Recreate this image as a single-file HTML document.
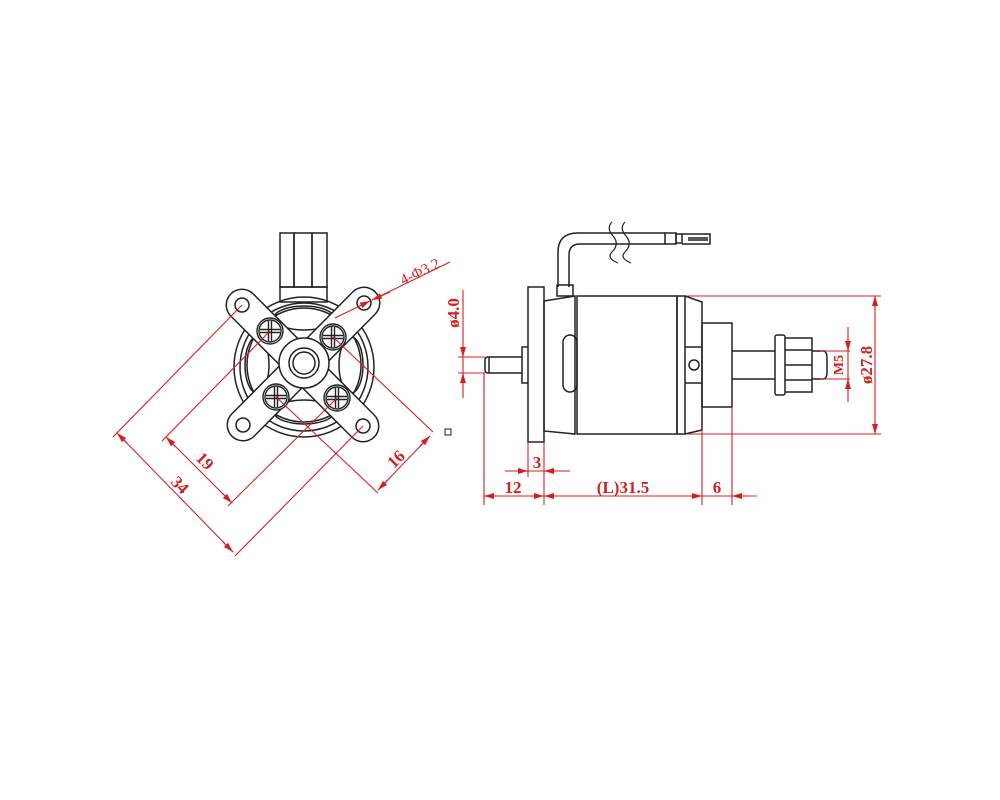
<!DOCTYPE html>
<html><head><style>html,body{margin:0;padding:0;background:#fff}svg{display:block}</style></head>
<body>
<svg width="1000" height="800" viewBox="0 0 1000 800" xmlns="http://www.w3.org/2000/svg">
<defs>
<marker id="a" viewBox="0 0 10 6" refX="10" refY="3" markerWidth="11" markerHeight="6" orient="auto-start-reverse" markerUnits="userSpaceOnUse"><path d="M0,0L10,3L0,6z" fill="#d42020"/></marker>
</defs>
<g fill="none" stroke="#222" stroke-width="1.5">
<rect x="280" y="233" width="14" height="54"/><rect x="294" y="233" width="18" height="54"/><rect x="312" y="233" width="15" height="54"/>
<rect x="280" y="287" width="47" height="15"/>
<circle cx="304" cy="367" r="70"/>
<circle cx="304" cy="367" r="64"/>
<circle cx="304" cy="365" r="57"/>
<ellipse cx="304" cy="318" rx="30" ry="12"/>
<ellipse cx="304" cy="412" rx="30" ry="12"/>
<ellipse cx="257" cy="365" rx="12" ry="28"/>
<ellipse cx="351" cy="365" rx="12" ry="28"/>
</g>
<g stroke-linecap="round" fill="none">
<path d="M242,305L363,426M364,303L243,425" stroke="#222" stroke-width="33"/>
<path d="M242,305L363,426M364,303L243,425" stroke="#fff" stroke-width="30"/>
</g>
<g fill="#fff" stroke="#222" stroke-width="1.5">
<circle cx="304" cy="363" r="25"/>
<circle cx="304" cy="363" r="15"/>
<circle cx="304" cy="363" r="11"/>
<circle cx="242" cy="305" r="7"/><circle cx="364" cy="303" r="7"/><circle cx="243" cy="425" r="7"/><circle cx="363" cy="426" r="7"/>
</g>
<g fill="#fff" stroke="#222" stroke-width="1.4">
<g transform="translate(270,331)"><circle r="13"/><circle r="11"/><path d="M-10,-1.5H10M-10,1.5H10M-1.5,-10V10M1.5,-10V10" fill="none"/></g>
<g transform="translate(333,337)"><circle r="13"/><circle r="11"/><path d="M-10,-1.5H10M-10,1.5H10M-1.5,-10V10M1.5,-10V10" fill="none"/></g>
<g transform="translate(276,397)"><circle r="13"/><circle r="11"/><path d="M-10,-1.5H10M-10,1.5H10M-1.5,-10V10M1.5,-10V10" fill="none"/></g>
<g transform="translate(337,398)"><circle r="13"/><circle r="11"/><path d="M-10,-1.5H10M-10,1.5H10M-1.5,-10V10M1.5,-10V10" fill="none"/></g>
</g>
<rect x="445" y="429" width="6" height="6" fill="none" stroke="#222"/>

<!-- SIDE VIEW -->
<g fill="none" stroke="#222" stroke-width="1.5">
<path d="M558,287V252Q558,233 578,233H665M569,287V255Q569,244 580,244H665"/>
<path d="M612,222Q606,228 613,236Q620,244 612,252Q606,258 618,263M625,222Q619,228 626,236Q633,244 625,252Q619,258 631,263" stroke-width="1.2"/>
<rect x="665" y="233" width="11" height="11"/><rect x="676" y="234" width="6" height="9"/>
<path d="M682,234H710V244H682M688,238H708M688,240H708"/>
<rect x="528" y="287" width="16" height="155"/>
<path d="M544,301L575,296V434L544,431Z"/>
<rect x="557" y="285" width="16" height="11"/>
<rect x="563" y="335" width="14" height="57" rx="7"/>
<rect x="577" y="296" width="100" height="138"/>
<rect x="677" y="296" width="8" height="138"/>
<path d="M685,296L702,302V430L685,434M685,347H702M685,383H702"/>
<circle cx="694" cy="365" r="5"/>
<path d="M702,323H732V407H702Z"/>
<path d="M732,351H775M732,379H775"/>
<rect x="775" y="335" width="10" height="60" rx="2"/>
<path d="M785,338H812V392H785M785,350H812M785,365H812M785,380H812"/>
<path d="M812,351H823Q827,351 827,358V372Q827,379 823,379H812"/>
<path d="M528,383H522V347H528M522,357H488Q485,357 485,360V370Q485,373 488,373H522M489,357V373"/>
</g>

<!-- RED DIMENSIONS -->
<g stroke="#d42020" stroke-width="1.1" fill="none">
<path d="M242,305L113,437M363,426L235,556M117,433L233,552" />
<path d="M117,433L127,443" marker-start="url(#a)"/>
<path d="M223,542L233,552" marker-end="url(#a)"/>
<path d="M270,331L162,441M337,398L228,506M166,437L232,503"/>
<path d="M166,437L176,447" marker-start="url(#a)"/>
<path d="M222,493L232,503" marker-end="url(#a)"/>
<path d="M333,337L433,432M276,397L378,493M430,436L378,490"/>
<path d="M420,446L430,436" marker-end="url(#a)"/>
<path d="M388,480L378,490" marker-end="url(#a)"/>
<path d="M335,318L370,301" marker-end="url(#a)"/>
<path d="M372,300L390,292" marker-start="url(#a)"/>
<path d="M372,300L450,262"/>
<path d="M458,357H485M458,373H485M463,290V398"/>
<path d="M463,345V357" marker-end="url(#a)"/>
<path d="M463,385V373" marker-end="url(#a)"/>
<path d="M687,296H881M687,434H881M875,296V434"/>
<path d="M875,310V296" marker-end="url(#a)"/>
<path d="M875,420V434" marker-end="url(#a)"/>
<path d="M820,351H850M820,379H850M848,327V402"/>
<path d="M848,339V351" marker-end="url(#a)"/>
<path d="M848,391V379" marker-end="url(#a)"/>
<path d="M484,373V505M528,442V477M544,442V505M702,430V505M732,407V505"/>
<path d="M505,471H570"/>
<path d="M516,471H528" marker-end="url(#a)"/>
<path d="M556,471H544" marker-end="url(#a)"/>
<path d="M484,496H757"/>
<path d="M496,496H484" marker-end="url(#a)"/>
<path d="M532,496H544" marker-end="url(#a)"/>
<path d="M556,496H544" marker-end="url(#a)"/>
<path d="M690,496H702" marker-end="url(#a)"/>
<path d="M744,496H732" marker-end="url(#a)"/>
</g>
<g fill="#d42020" font-family="Liberation Serif, serif" font-size="17" font-weight="bold">
<text x="537" y="468" text-anchor="middle">3</text>
<text x="513" y="493" text-anchor="middle">12</text>
<text x="623" y="493" text-anchor="middle">(L)31.5</text>
<text x="717" y="493" text-anchor="middle">6</text>
<text transform="translate(459,313) rotate(-90)" text-anchor="middle">ø4.0</text>
<text transform="translate(872,365) rotate(-90)" text-anchor="middle">ø27.8</text>
<text transform="translate(843,365) rotate(-90)" text-anchor="middle" font-size="14">M5</text>
<text transform="translate(422,276) rotate(-26)" text-anchor="middle" font-size="15" font-weight="normal">4-Φ3.2</text>
<text transform="translate(176,489) rotate(45)" text-anchor="middle">34</text>
<text transform="translate(201,465) rotate(45)" text-anchor="middle">19</text>
<text transform="translate(400,463) rotate(-45)" text-anchor="middle">16</text>
</g>
</svg>
</body></html>
